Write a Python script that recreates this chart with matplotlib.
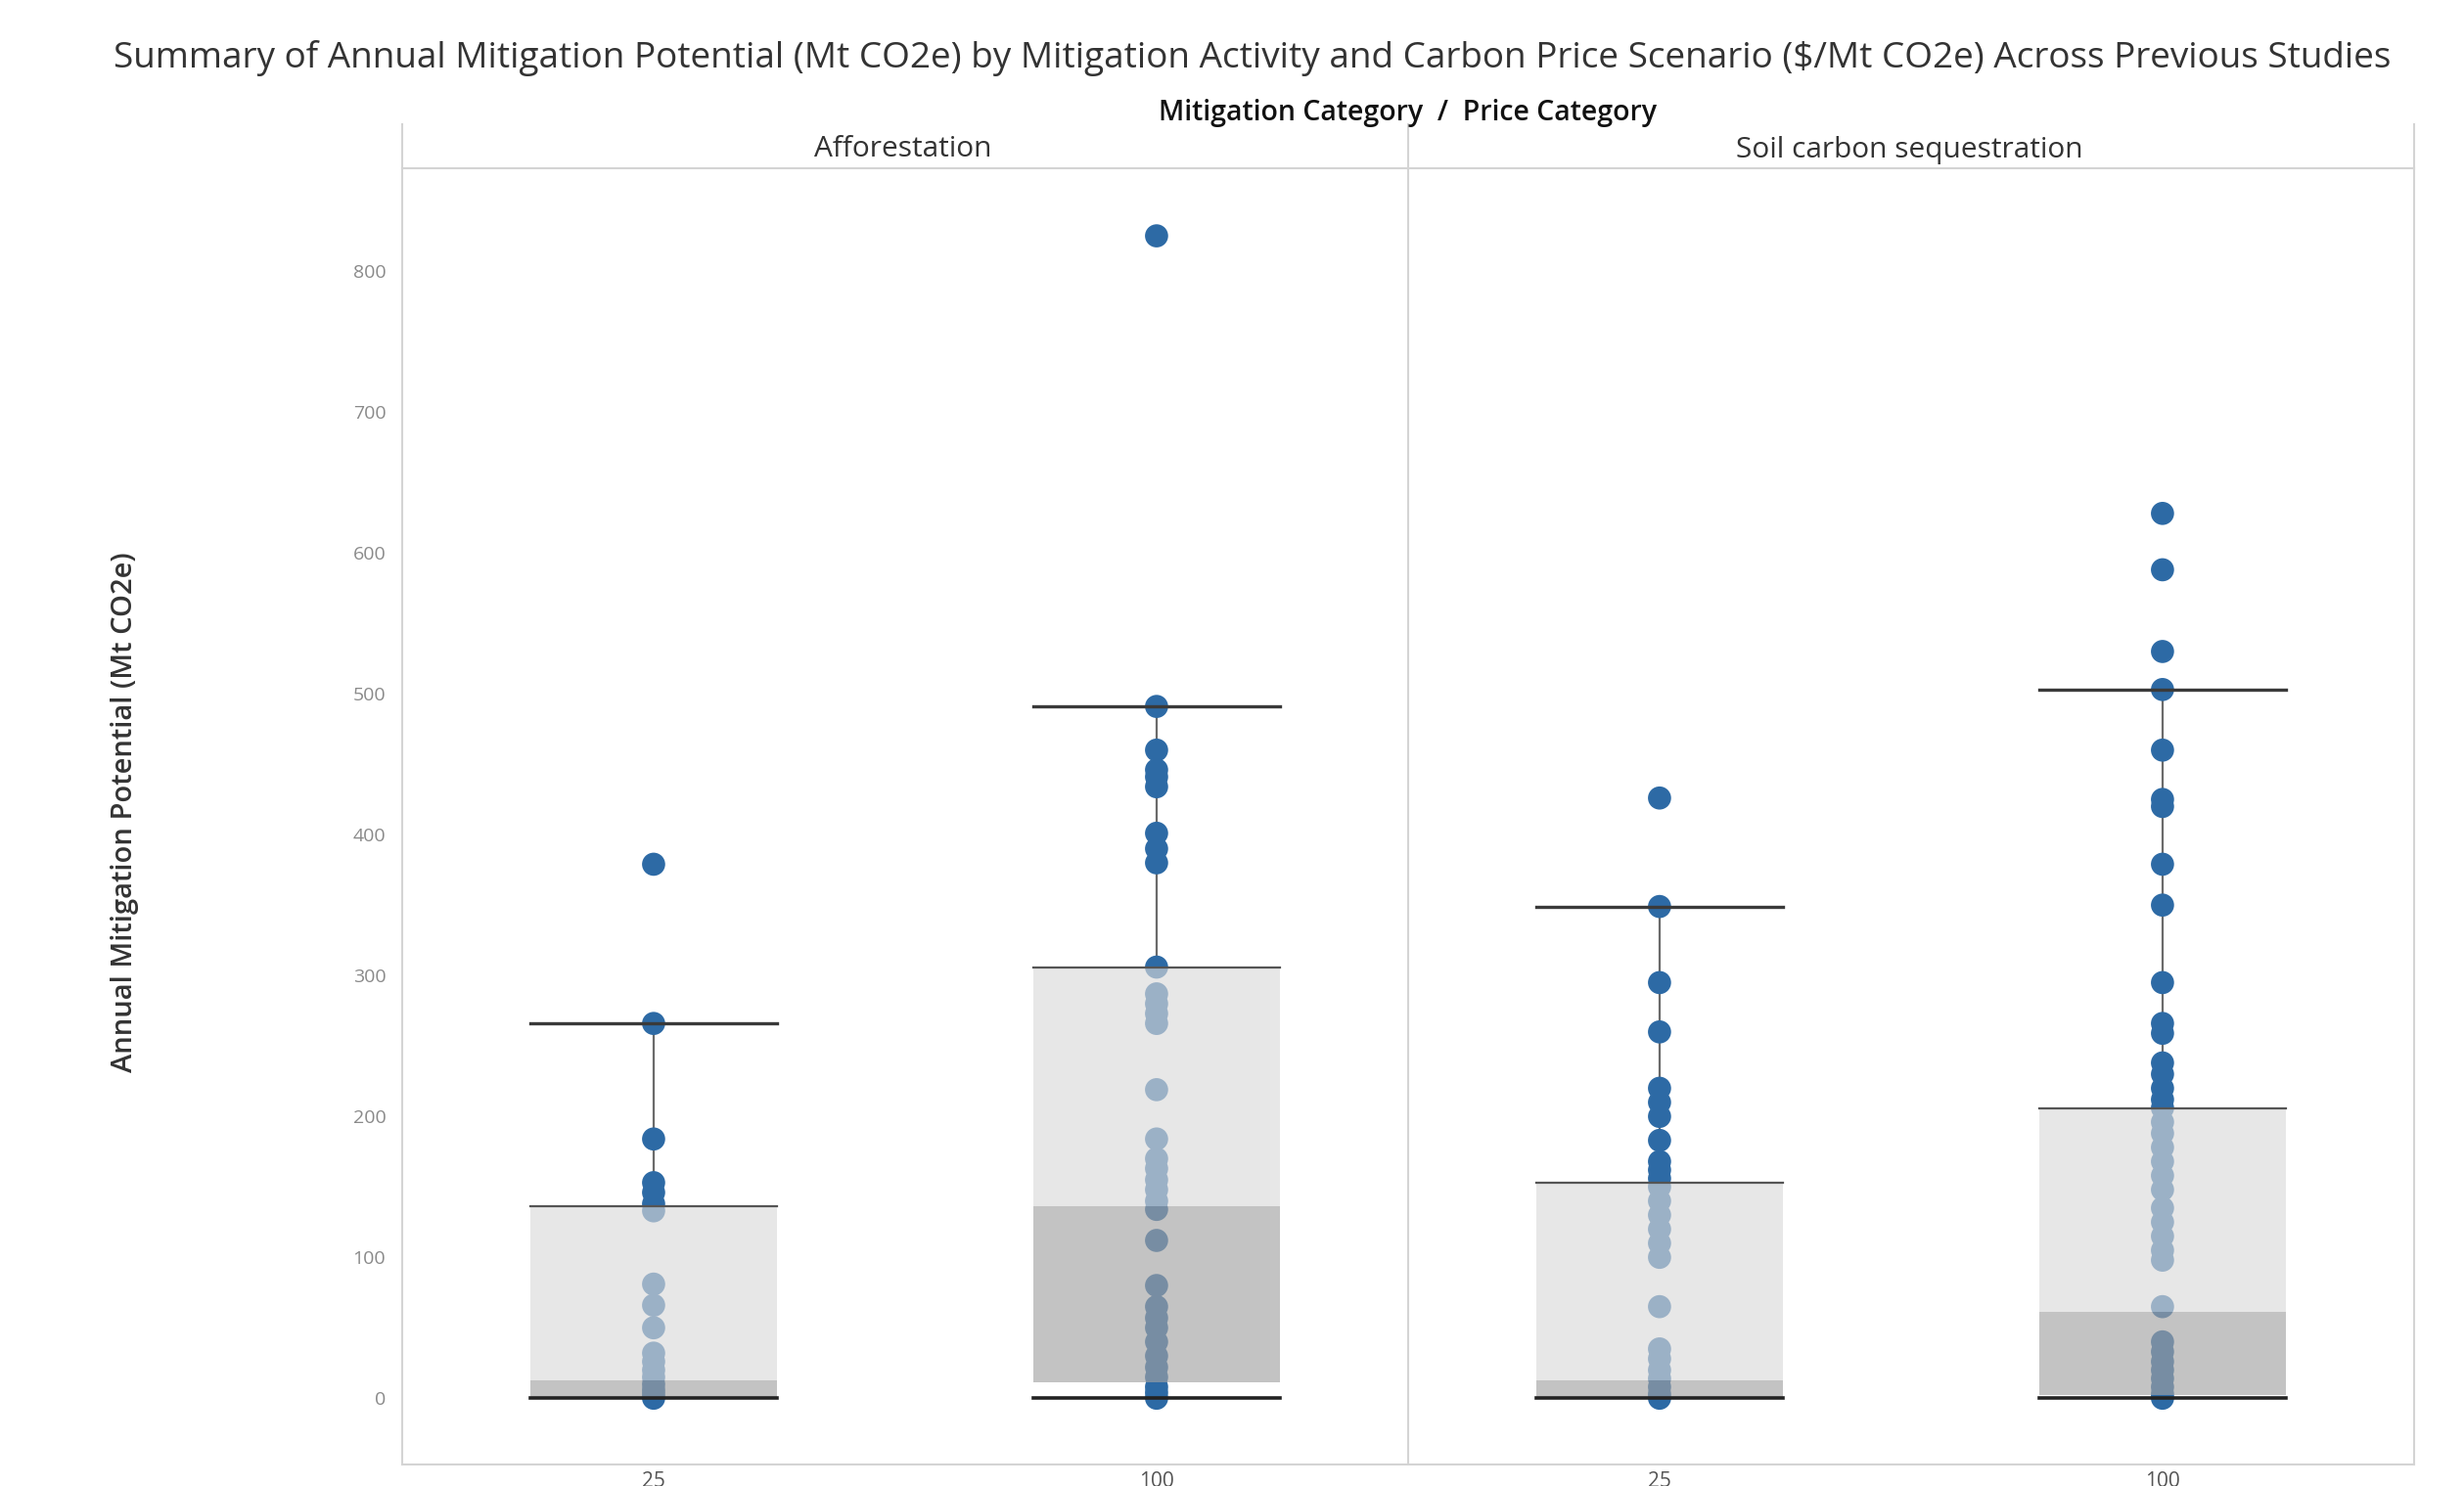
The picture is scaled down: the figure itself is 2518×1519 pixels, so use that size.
import matplotlib
matplotlib.use("Agg")
import matplotlib.pyplot as plt
from matplotlib.lines import Line2D

plt.rcParams["font.family"] = ["Open Sans", "DejaVu Sans"]

# groups: (mitigation category, price category)
categories = ["Afforestation", "Soil carbon sequestration"]
prices = ["25", "100", "25", "100"]

# box stats: lower whisker, Q1, median, Q3, upper whisker
lower_whisker = [0, 0, 0, 0]
q1 = [0, 11, 0, 2]
median = [13, 136, 13, 61]
q3 = [136, 306, 153, 206]
upper_whisker = [266, 491, 349, 503]

# individual study estimates (Mt CO2e)
aff_25 = [379, 266, 184, 153, 146, 138, 133, 81, 66, 50, 32, 26, 20, 15, 10, 6, 3, 0]
aff_100 = [825, 491, 460, 446, 441, 434, 401, 390, 380, 306, 287, 280, 273, 266,
           219, 184, 170, 163, 155, 148, 140, 134, 112, 80, 65, 57, 50, 40, 30,
           22, 15, 8, 4, 0]
soil_25 = [426, 349, 295, 260, 220, 210, 200, 183, 168, 162, 156, 150, 140, 130,
           120, 110, 100, 65, 35, 28, 20, 14, 8, 3, 0]
soil_100 = [628, 588, 530, 503, 460, 425, 420, 379, 350, 295, 266, 259, 238, 230,
            220, 212, 206, 196, 188, 178, 168, 158, 148, 135, 125, 115, 105, 98,
            65, 40, 33, 26, 20, 14, 8, 3, 0]
points = [aff_25, aff_100, soil_25, soil_100]

yticks = [0, 100, 200, 300, 400, 500, 600, 700, 800]

POINT = "#2d6aa5"
BOX_LIGHT = "#dadada"
BOX_DARK = "#a2a2a2"
EDGE = "#d4d4d4"
WHISK = "#3a3a3a"

fig = plt.figure(figsize=(25.18, 15.19), dpi=100)
ax = fig.add_axes([0.1632, 0.0145, 0.8165, 0.8723])

half = 0.245
for i, pts in enumerate(points):
    x = i + 0.5
    ax.scatter([x] * len(pts), pts, s=290, color=POINT, edgecolors="none", zorder=3)
    # whisker stem behind the points
    ax.plot([x, x], [q3[i], upper_whisker[i]], color="#6b6b6b", lw=1.6, zorder=2)
    # box: light part median..Q3, dark part Q1..median, drawn over the points
    ax.bar(x, q3[i] - median[i], bottom=median[i], width=2 * half,
           color=BOX_LIGHT, alpha=0.64, zorder=4, linewidth=0)
    ax.bar(x, median[i] - q1[i], bottom=q1[i], width=2 * half,
           color=BOX_DARK, alpha=0.64, zorder=4, linewidth=0)
    ax.plot([x - half, x + half], [q3[i], q3[i]], color="#555555", lw=1.6, zorder=5)
    # whisker caps
    ax.plot([x - half, x + half], [upper_whisker[i]] * 2, color=WHISK, lw=2.4, zorder=5)
    ax.plot([x - half, x + half], [lower_whisker[i]] * 2, color="#222222", lw=2.6, zorder=5)

ax.axvline(2, color=EDGE, lw=1.5, zorder=1)
ax.set_xlim(0, 4)
ax.set_ylim(-47, 873)
ax.set_yticks(yticks)
ax.set_yticklabels([str(v) for v in yticks])
ax.set_xticks([0.5, 1.5, 2.5, 3.5])
ax.set_xticklabels(prices)
ax.tick_params(axis="y", length=0, pad=12, labelsize=14, labelcolor="#8a8a8a")
ax.tick_params(axis="x", length=0, pad=5, labelsize=15, labelcolor="#555555")
for s in ax.spines.values():
    s.set_color(EDGE)
    s.set_linewidth(1.5)

# header row above the panels
hdr_top = 1 + 45 / 1325
for xa in [0, 0.5, 1]:
    ax.add_line(Line2D([xa, xa], [1, hdr_top], transform=ax.transAxes,
                       color=EDGE, lw=1.5, clip_on=False))
fig.text(923 / 2518, 1 - 153 / 1519, categories[0], ha="center", va="center",
         fontsize=21.5, color="#333333")
fig.text(1951 / 2518, 1 - 153 / 1519, categories[1], ha="center", va="center",
         fontsize=21.5, color="#333333")
fig.text(1438 / 2518, 1 - 116 / 1519, "Mitigation Category  /  Price Category",
         ha="center", va="center", fontsize=20.5, fontweight="semibold", color="#111111")

fig.text(128 / 2518, 1 - 830 / 1519, "Annual Mitigation Potential (Mt CO2e)",
         rotation=90, ha="center", va="center", fontsize=21,
         fontweight="semibold", color="#333333")

fig.text(1280 / 2518, 1 - 60 / 1519,
         "Summary of Annual Mitigation Potential (Mt CO2e) by Mitigation Activity "
         "and Carbon Price Scenario ($/Mt CO2e) Across Previous Studies",
         ha="center", va="center", fontsize=26.6, color="#333333")

fig.savefig("out.png", dpi=100, facecolor="white")
